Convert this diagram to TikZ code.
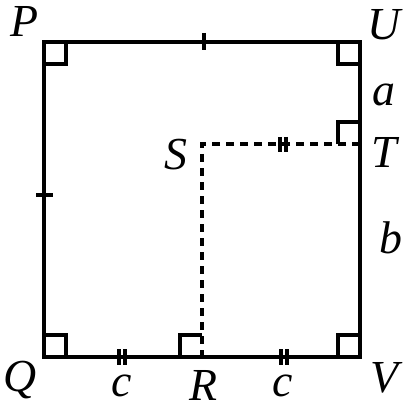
\documentclass[tikz,border=0pt]{standalone}
\usepackage{fontspec}
\setmainfont{Liberation Serif}
\usepackage{tikz}
\usetikzlibrary{positioning}
\tikzset{
  side/.style={line width=1.8pt},
  hidden/.style={line width=1.8pt,dash pattern=on 4bp off 3bp},
  rangle/.style={line width=1.6pt},
  tick/.style={line width=1.6pt},
  lbl/.style={font=\fontsize{23}{27}\selectfont\itshape,inner sep=0pt}
}
\begin{document}
\begin{tikzpicture}[x=0.5bp,y=-0.5bp]
		\useasboundingbox (0,0) rectangle (411,408);
		\coordinate (P) at (44,42);
		\coordinate (U) at (360,42);
		\coordinate (Q) at (44,357);
		\coordinate (V) at (360,357);
		\coordinate (S) at (202,144);
		\coordinate (T) at (360,144);
		\coordinate (R) at (202,357);

		\draw[side] (P) -- (U) -- (V) -- (Q) -- cycle;
		\draw[hidden] (T) -- (S) -- (R);

		% right angles
		\draw[rangle] (66,42) -- (66,64) -- (44,64);
		\draw[rangle] (338,42) -- (338,64) -- (360,64);
		\draw[rangle] (44,335) -- (66,335) -- (66,357);
		\draw[rangle] (360,335) -- (338,335) -- (338,357);
		\draw[rangle] (180,357) -- (180,335) -- (202,335);
		\draw[rangle] (338,144) -- (338,122) -- (360,122);

		% equal marks
		\draw[tick] (204,33) -- (204,50);
		\draw[tick] (36,195) -- (53,195);
		\foreach \x in {119,125,281,287} \draw[tick] (\x,349) -- (\x,365);
		\draw[tick] (280,137) -- (280,152) (286,137) -- (286,152);

		\node[lbl] (lP) at (24,22) {P};
		\node[lbl] (lU) at (384,25) {U};
		\node[lbl] (lQ) at (20,380) {Q};
		\node[lbl] (lV) at (384,378) {V};
		\node[lbl] (lR) at (203,385) {R};
		\node[lbl] (lS) at (176,155) {S};
		\node[lbl] (lT) at (384,152) {T};
		\node[lbl] (la) at (384,95) {a};
		\node[lbl] (lb) at (391,238) {b};
		\node[lbl] (lc1) at (122,386) {c};
		\node[lbl] (lc2) at (283,386) {c};
	\end{tikzpicture}
\end{document}
